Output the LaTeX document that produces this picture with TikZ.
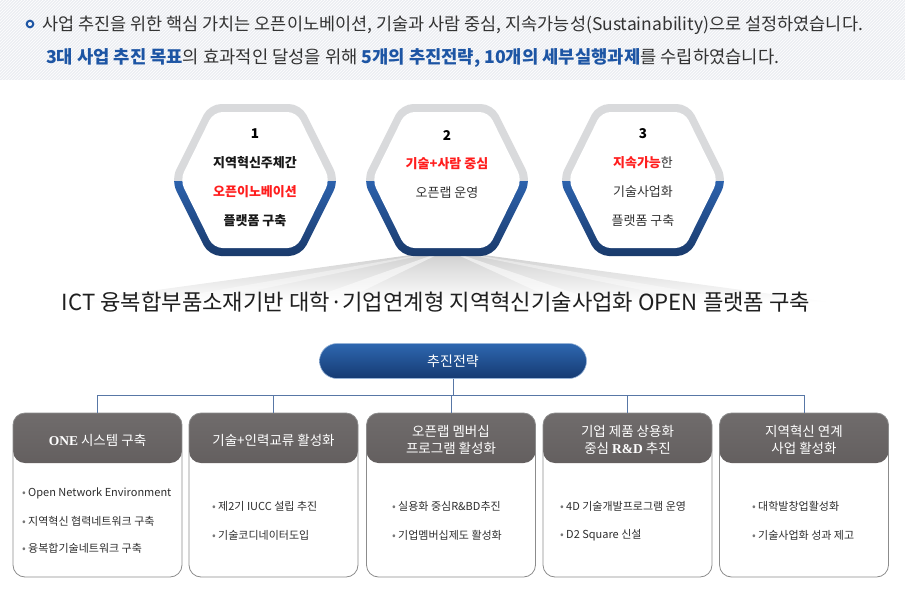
\documentclass[tikz,border=0pt]{standalone}
\usepackage{fontspec}
\setmainfont{Noto Sans CJK KR}
\newfontfamily\serifb{Liberation Serif}
\usetikzlibrary{patterns,shapes.misc}
\definecolor{txt}{HTML}{333333}
\definecolor{dblue}{HTML}{1D55A4}
\definecolor{hred}{HTML}{FF1E1E}
\definecolor{hgray}{HTML}{D9DADC}
\definecolor{hblue}{HTML}{2C62AD}
\definecolor{hblueD}{HTML}{1A3A6B}
\definecolor{pillT}{HTML}{2E67B0}
\definecolor{pillB}{HTML}{153A72}
\definecolor{headT}{HTML}{706C6C}
\definecolor{headB}{HTML}{474242}
\definecolor{conn}{HTML}{5877A6}
\definecolor{banner}{HTML}{ECEEF2}
\definecolor{boxline}{HTML}{8C8C8C}
\definecolor{bulletc}{HTML}{777777}
\pgfdeclareverticalshading{hexshade}{100bp}{color(0bp)=(hblueD); color(25bp)=(hblueD); color(49.9bp)=(hblue); color(50bp)=(hgray); color(75bp)=(hgray); color(100bp)=(hgray)}
\newcommand\drawhex[1]{%
  \begin{scope}[shift={(#1)}]
    \shade[shading=hexshade, rounded corners=12pt] (0,-76) -- (46,-76) -- (84,0) -- (46,76) -- (-46,76) -- (-84,0) -- (-46,-76) -- cycle;
    \fill[white, rounded corners=9pt] (0,-68) -- (41.5,-68) -- (75,0) -- (41.5,68) -- (-41.5,68) -- (-75,0) -- (-41.5,-68) -- cycle;
  \end{scope}}
\newcommand\bul{{\color{bulletc}•}\ }
\begin{document}
\begin{tikzpicture}[x=1pt,y=-1pt,
  every node/.style={inner sep=0pt, outer sep=0pt},
  line1/.style={font=\fontsize{17.5}{17.5}\selectfont, text=txt, anchor=west},
  hexnum/.style={font=\fontsize{13.5}{13.5}\selectfont\bfseries, text=black},
  hexb/.style={font=\fontsize{13}{13}\selectfont\bfseries, text=black!90},
  hexn/.style={font=\fontsize{13}{13}\selectfont, text=txt},
  titlet/.style={font=\fontsize{22.2}{22.2}\selectfont, text=black!88},
  pill/.style={rounded rectangle, minimum width=267pt, minimum height=35pt, top color=pillT, bottom color=pillB, draw=pillT!50!white, line width=0.6pt, text=white, font=\fontsize{14}{14}\selectfont},
  stratbox/.style={draw=boxline, line width=0.8pt, rounded corners=12pt, minimum width=169pt, minimum height=164pt, fill=white,
    path picture={\shade[top color=headT, bottom color=headB] (path picture bounding box.north west) rectangle ([yshift=-50pt]path picture bounding box.north east);}},
  hdr/.style={font=\fontsize{13.5}{17.5}\selectfont, text=white, align=center},
  body/.style={font=\fontsize{11}{11}\selectfont, text=black!82, anchor=west},
  conline/.style={draw=conn, line width=0.9pt}
]
\useasboundingbox (0,0) rectangle (905,592);
% banner
\fill[banner] (0,0) rectangle (905,80);
\fill[pattern=north east lines, pattern color=white] (0,0) rectangle (905,80);
\draw[dblue, line width=2pt] (30,24) circle (3.3);
\node[line1] (l1) at (42,25) {사업 추진을 위한 핵심 가치는 오픈이노베이션, 기술과 사람 중심, 지속가능성(Sustainability)으로 설정하였습니다.};
\node[line1, font=\fontsize{17.7}{17.7}\selectfont] (l2) at (46,58) {{\color{dblue}\bfseries 3대 사업 추진 목표}의 효과적인 달성을 위해 {\color{dblue}\bfseries 5개의 추진전략, 10개의 세부실행과제}를 수립하였습니다.};
% fan
\shade[top color=gray!40, bottom color=white] (447,250) -- (70,302) -- (830,302) -- cycle;
\fill[white, opacity=0.55] (447,250) -- (300,302) -- (340,302) -- cycle;
\fill[white, opacity=0.55] (447,250) -- (560,302) -- (600,302) -- cycle;
\fill[white, opacity=0.4] (447,250) -- (150,302) -- (200,302) -- cycle;
\fill[white, opacity=0.4] (447,250) -- (700,302) -- (750,302) -- cycle;
% hexagons
\coordinate (hx1) at (255,180);
\coordinate (hx2) at (447,180);
\coordinate (hx3) at (643,180);
\drawhex{hx1}
\drawhex{hx2}
\drawhex{hx3}
\node[hexnum] (n1) at (255,134) {1};
\node[hexb] (t1a) at (255,163) {지역혁신주체간};
\node[hexb, text=hred] (t1b) at (255,192) {오픈이노베이션};
\node[hexb] (t1c) at (255,221) {플랫폼 구축};
\node[hexnum] (n2) at (447,136) {2};
\node[hexb, text=hred] (t2a) at (447,164) {기술+사람 중심};
\node[hexn] (t2b) at (447,193) {오픈랩 운영};
\node[hexnum] (n3) at (643,134) {3};
\node[hexn] (t3a) at (643,163) {{\color{hred}\bfseries 지속가능}한};
\node[hexn] (t3b) at (643,192) {기술사업화};
\node[hexn] (t3c) at (643,221) {플랫폼 구축};
% title
\node[titlet] (title) at (436,302) {ICT 융복합부품소재기반 대학·기업연계형 지역혁신기술사업화 OPEN 플랫폼 구축};
% strategy
\node[pill] (strat) at (453,361) {추진전략};
\node[stratbox] (b1) at (97.5,495) {};
\node[stratbox] (b2) at (273.5,495) {};
\node[stratbox] (b3) at (451,495) {};
\node[stratbox] (b4) at (627.5,495) {};
\node[stratbox] (b5) at (804,495) {};
\coordinate (bus) at (0,395);
\draw[conline] (strat.south) -- (strat.south |- bus);
\draw[conline] (b1.north |- bus) -- (b5.north |- bus);
\foreach \b in {b1,b2,b3,b4,b5} \draw[conline] (\b.north) -- (\b.north |- bus);
% headers
\node[hdr] (h1) at (97.5,440) {{\serifb\bfseries ONE} 시스템 구축};
\node[hdr] (h2) at (273.5,440) {기술+인력교류 활성화};
\node[hdr] (h3) at (451,440) {오픈랩 멤버십\\프로그램 활성화};
\node[hdr] (h4) at (627.5,440) {기업 제품 상용화\\중심 {\serifb\bfseries R\&D} 추진};
\node[hdr] (h5) at (804,440) {지역혁신 연계\\사업 활성화};
% bodies
\node[body] (p11) at (22,493) {\bul Open Network Environment};
\node[body] (p12) at (22,521) {\bul 지역혁신 협력네트워크 구축};
\node[body] (p13) at (22,548) {\bul 융복합기술네트워크 구축};
\node[body] (p21) at (212,506) {\bul 제2기 IUCC 설립 추진};
\node[body] (p22) at (212,535) {\bul 기술코디네이터도입};
\node[body] (p31) at (392,506) {\bul 실용화 중심R\&BD추진};
\node[body] (p32) at (392,535) {\bul 기업멤버십제도 활성화};
\node[body] (p41) at (560,506) {\bul 4D 기술개발프로그램 운영};
\node[body] (p42) at (560,535) {\bul D2 Square 신설};
\node[body] (p51) at (752,506) {\bul 대학발창업활성화};
\node[body] (p52) at (752,535) {\bul 기술사업화 성과 제고};
\end{tikzpicture}
\end{document}
